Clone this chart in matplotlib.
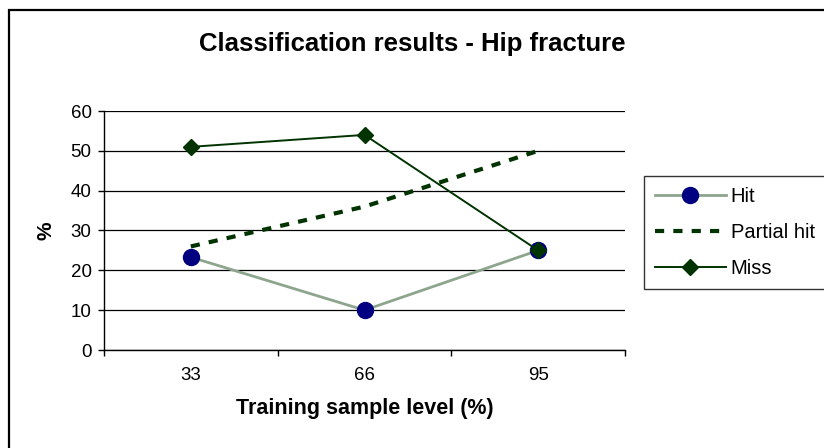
import matplotlib
matplotlib.use("Agg")
import matplotlib.pyplot as plt
from matplotlib.patches import Rectangle

categories = ["33", "66", "95"]
hit = [23.3, 10.0, 25.0]
partial_hit = [26.0, 36.0, 50.0]
miss = [51.0, 54.0, 25.0]
y_ticks = [0, 10, 20, 30, 40, 50, 60]

plt.rcParams['font.family'] = ['Liberation Sans', 'DejaVu Sans']

W, H = 824, 448
fig = plt.figure(figsize=(W / 100, H / 100), dpi=100)

# outer chart border
fig.patches.append(Rectangle((9 / W, -0.05), 1.2, 1 - 10 / H + 0.05,
                             transform=fig.transFigure, fill=False,
                             edgecolor='black', linewidth=1.6, zorder=0))

ax = fig.add_axes([104 / W, 1 - 350 / H, (625 - 104) / W, (350 - 111) / H])
x = list(range(len(categories)))

ax.plot(x, hit, color='#8CA58C', linewidth=2, marker='o', markersize=11.5,
        markerfacecolor='#000080', markeredgecolor='#000080', label='Hit', zorder=3)
ax.plot(x, partial_hit, color='#003300', linewidth=3, linestyle=(0, (2.2, 2.2)),
        label='Partial hit', zorder=3)
ax.plot(x, miss, color='#003300', linewidth=1.4, marker='D', markersize=8,
        markerfacecolor='#003300', markeredgecolor='#003300', label='Miss', zorder=4)

ax.set_xlim(-0.5, len(categories) - 0.5)
ax.set_ylim(0, 60)
ax.set_yticks(y_ticks)
ax.set_xticks(x)
ax.set_xticklabels(categories)
ax.set_xticks([i - 0.5 for i in range(len(categories) + 1)], minor=True)
ax.tick_params(axis='x', which='major', length=0, pad=12, labelsize=13.5)
ax.tick_params(axis='x', which='minor', length=4, direction='out', width=1)
ax.tick_params(axis='y', length=4, direction='out', width=1, labelsize=13.5, pad=5)
ax.grid(axis='y', color='black', linewidth=0.9)
ax.set_axisbelow(True)
for s in ['top', 'right']:
    ax.spines[s].set_visible(False)
ax.spines['left'].set_linewidth(1)
ax.spines['bottom'].set_linewidth(1)

ax.set_xlabel('Training sample level (%)', fontsize=15.5, fontweight='bold', labelpad=10)
ax.set_ylabel('%', fontsize=15, fontweight='bold', labelpad=11)

fig.text(0.5, 1 - 44 / H, 'Classification results - Hip fracture', ha='center',
         va='center', fontsize=18.5, fontweight='bold')

leg = fig.legend(loc='upper left', bbox_to_anchor=(644 / W, 1 - 176 / H),
                 fontsize=14.5, frameon=True, fancybox=False, edgecolor='black',
                 handlelength=3.5, labelspacing=0.85, borderpad=0.55,
                 handletextpad=0.25, borderaxespad=0)
leg.get_frame().set_linewidth(1)

fig.savefig('out.png', dpi=100)
